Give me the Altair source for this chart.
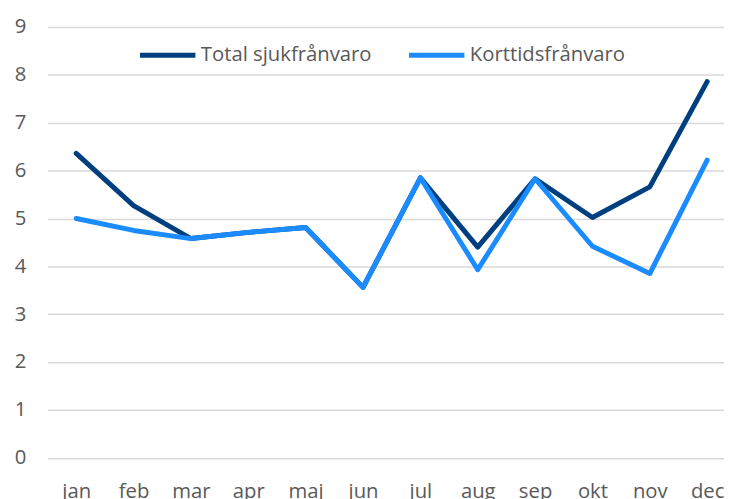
import altair as alt
import pandas as pd

months = ["jan", "feb", "mar", "apr", "maj", "jun", "jul", "aug", "sep", "okt", "nov", "dec"]
total = [6.36, 5.27, 4.58, 4.71, 4.81, 3.56, 5.85, 4.40, 5.83, 5.02, 5.66, 7.86]
kort = [5.00, 4.75, 4.58, 4.71, 4.81, 3.56, 5.85, 3.93, 5.83, 4.42, 3.85, 6.22]
series = ["Total sjukfrånvaro", "Korttidsfrånvaro"]
colors = ["#003f7f", "#1a8cff"]

df_total = pd.DataFrame({"month": months, "value": total, "series": series[0]})
df_kort = pd.DataFrame({"month": months, "value": kort, "series": series[1]})

FONT = "Open Sans"
FS = 20.5

x = alt.X("month:N", sort=months, title=None,
          scale=alt.Scale(type="point", padding=0.3966, align=0.63),
          axis=alt.Axis(labelAngle=0, labelFont=FONT, labelFontSize=FS, labelColor="#595959",
                        ticks=False, domain=False, labelPadding=24, grid=False))
y = alt.Y("value:Q", title=None,
          scale=alt.Scale(domain=[0, 9], nice=False),
          axis=alt.Axis(values=list(range(10)), labelFont=FONT, labelFontSize=FS, labelColor="#595959",
                        ticks=False, domain=False, labelPadding=22, gridColor="#d9d9d9", gridWidth=1.5))
color = alt.Color("series:N", scale=alt.Scale(domain=series, range=colors),
                  legend=alt.Legend(title=None, orient="none", direction="horizontal",
                                    legendX=91, legendY=-2, symbolType="stroke",
                                    symbolSize=3136, symbolStrokeWidth=5,
                                    labelFont=FONT, labelFontSize=FS, labelColor="#595959",
                                    labelOffset=3, columnPadding=27, labelLimit=300))

base_total = alt.Chart(df_total).mark_line(strokeWidth=5, strokeCap="round", strokeJoin="round").encode(
    x=x, y=y, color=color)
base_kort = alt.Chart(df_kort).mark_line(strokeWidth=5, strokeCap="round", strokeJoin="round").encode(
    x=x, y=y, color=color)

chart = alt.layer(base_total, base_kort).properties(
    width=684, height=435.5,
    padding={"left": 40, "top": 16.5, "right": 0, "bottom": 45},
    autosize=alt.AutoSizeParams(type="none"),
).configure_view(stroke=None)

chart.save("out.html", embed_options={"renderer": "svg", "actions": False})
